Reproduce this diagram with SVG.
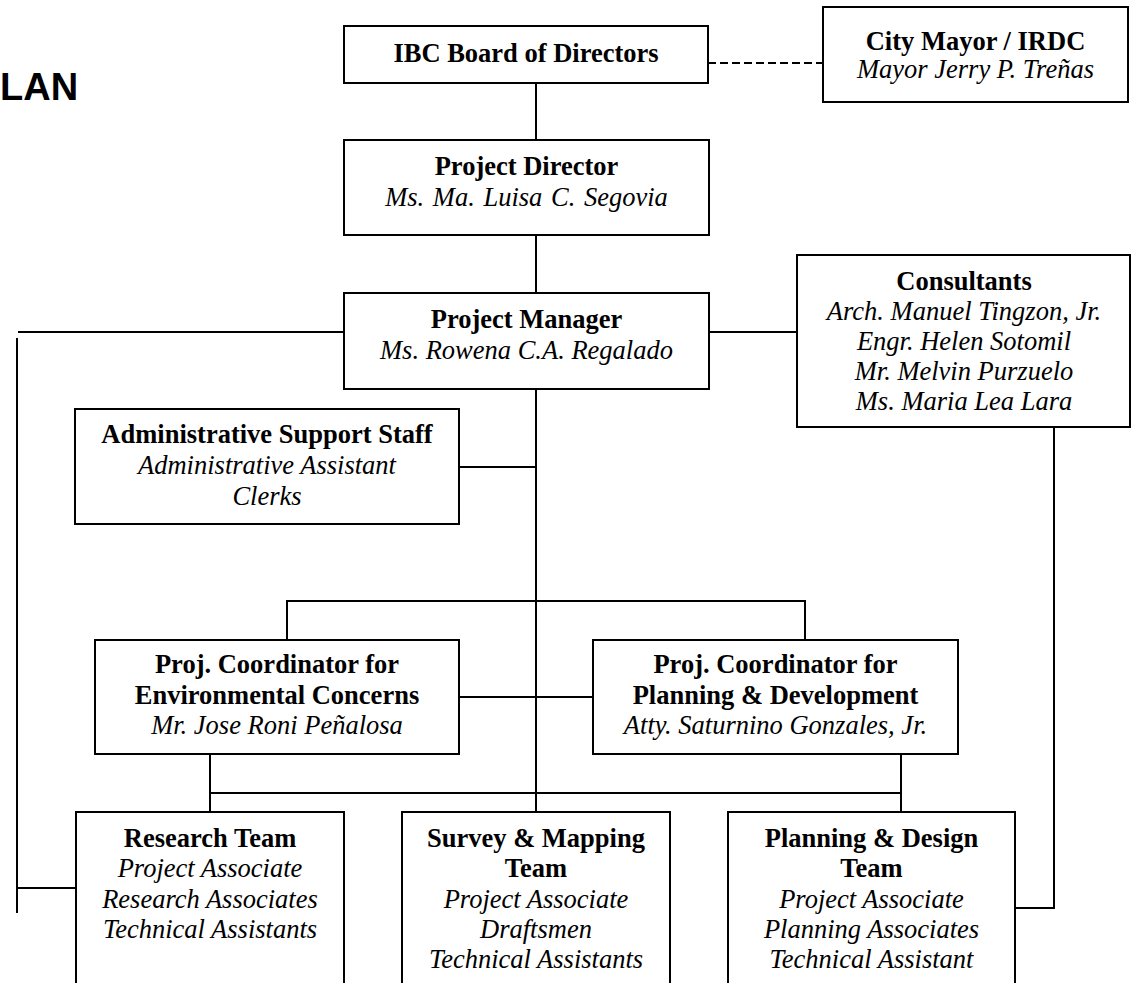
<svg xmlns="http://www.w3.org/2000/svg" width="1132" height="983" viewBox="0 0 1132 983">
<style>
rect.box{fill:#fff;stroke:#000;stroke-width:2}
.c line, .c polyline{stroke:#000;stroke-width:2;fill:none}
text{font-family:"Liberation Serif","Times New Roman",serif;font-size:26.5px;text-anchor:middle;fill:#000}
.b{font-weight:bold}
.i{font-style:italic}
.title{font-family:"Liberation Sans",Arial,sans-serif;font-weight:bold;font-size:38px;text-anchor:start}
</style>
<rect width="1132" height="983" fill="#fff"/>
<text class="title" x="0" y="100">LAN</text>
<g class="c" id="connectors">
<line x1="708" y1="63" x2="823" y2="63" stroke-dasharray="8,4"/>
<line x1="536" y1="83" x2="536" y2="140"/>
<line x1="536" y1="235" x2="536" y2="293"/>
<line x1="536" y1="389" x2="536" y2="812"/>
<line x1="709" y1="332" x2="797" y2="332"/>
<line x1="18" y1="332" x2="344" y2="332"/>
<line x1="17" y1="338" x2="17" y2="913"/>
<line x1="17" y1="888" x2="76" y2="888"/>
<line x1="459" y1="467" x2="536" y2="467"/>
<polyline points="287,640 287,601 805,601 805,640"/>
<line x1="459" y1="697" x2="593" y2="697"/>
<line x1="210" y1="754" x2="210" y2="812"/>
<line x1="901" y1="754" x2="901" y2="812"/>
<line x1="210" y1="793" x2="901" y2="793"/>
<polyline points="1054,427 1054,908 1015,908"/>
</g>
<g id="ibc">
<rect class="box" x="344" y="26" width="364" height="57"/>
<text class="b" x="526" y="62">IBC Board of Directors</text>
</g>
<g id="mayor">
<rect class="box" x="823" y="7" width="305" height="95"/>
<text class="b" x="975.5" y="50">City Mayor / IRDC</text>
<text class="i" x="975.5" y="78">Mayor Jerry P. Treñas</text>
</g>
<g id="director">
<rect class="box" x="344" y="140" width="365" height="95"/>
<text class="b" x="526.5" y="175">Project Director</text>
<text class="i" x="526.5" y="206" word-spacing="2">Ms. Ma. Luisa C. Segovia</text>
</g>
<g id="manager">
<rect class="box" x="344" y="293" width="365" height="96"/>
<text class="b" x="526.5" y="328">Project Manager</text>
<text class="i" x="526.5" y="359">Ms. Rowena C.A. Regalado</text>
</g>
<g id="consultants">
<rect class="box" x="797" y="255" width="333" height="172"/>
<text class="b" x="964" y="290">Consultants</text>
<text class="i" x="964" y="320">Arch. Manuel Tingzon, Jr.</text>
<text class="i" x="964" y="350">Engr. Helen Sotomil</text>
<text class="i" x="964" y="380">Mr. Melvin Purzuelo</text>
<text class="i" x="964" y="410">Ms. Maria Lea Lara</text>
</g>
<g id="admin">
<rect class="box" x="75" y="409" width="384" height="115"/>
<text class="b" x="267" y="443">Administrative Support Staff</text>
<text class="i" x="267" y="474">Administrative Assistant</text>
<text class="i" x="267" y="505">Clerks</text>
</g>
<g id="coord-env">
<rect class="box" x="95" y="640" width="364" height="114"/>
<text class="b" x="277" y="673">Proj. Coordinator for</text>
<text class="b" x="277" y="704">Environmental Concerns</text>
<text class="i" x="277" y="734">Mr. Jose Roni Peñalosa</text>
</g>
<g id="coord-plan">
<rect class="box" x="593" y="640" width="365" height="114"/>
<text class="b" x="775.5" y="673">Proj. Coordinator for</text>
<text class="b" x="775.5" y="704">Planning &amp; Development</text>
<text class="i" x="775.5" y="734">Atty. Saturnino Gonzales, Jr.</text>
</g>
<g id="research">
<rect class="box" x="76" y="812" width="268" height="190"/>
<text class="b" x="210" y="847">Research Team</text>
<text class="i" x="210" y="877">Project Associate</text>
<text class="i" x="210" y="908">Research Associates</text>
<text class="i" x="210" y="938">Technical Assistants</text>
</g>
<g id="survey">
<rect class="box" x="402" y="812" width="268" height="190"/>
<text class="b" x="536" y="847">Survey &amp; Mapping</text>
<text class="b" x="536" y="877">Team</text>
<text class="i" x="536" y="908">Project Associate</text>
<text class="i" x="536" y="938">Draftsmen</text>
<text class="i" x="536" y="968">Technical Assistants</text>
</g>
<g id="planning">
<rect class="box" x="728" y="812" width="287" height="190"/>
<text class="b" x="871.5" y="847">Planning &amp; Design</text>
<text class="b" x="871.5" y="877">Team</text>
<text class="i" x="871.5" y="908">Project Associate</text>
<text class="i" x="871.5" y="938">Planning Associates</text>
<text class="i" x="871.5" y="968">Technical Assistant</text>
</g>
</svg>
